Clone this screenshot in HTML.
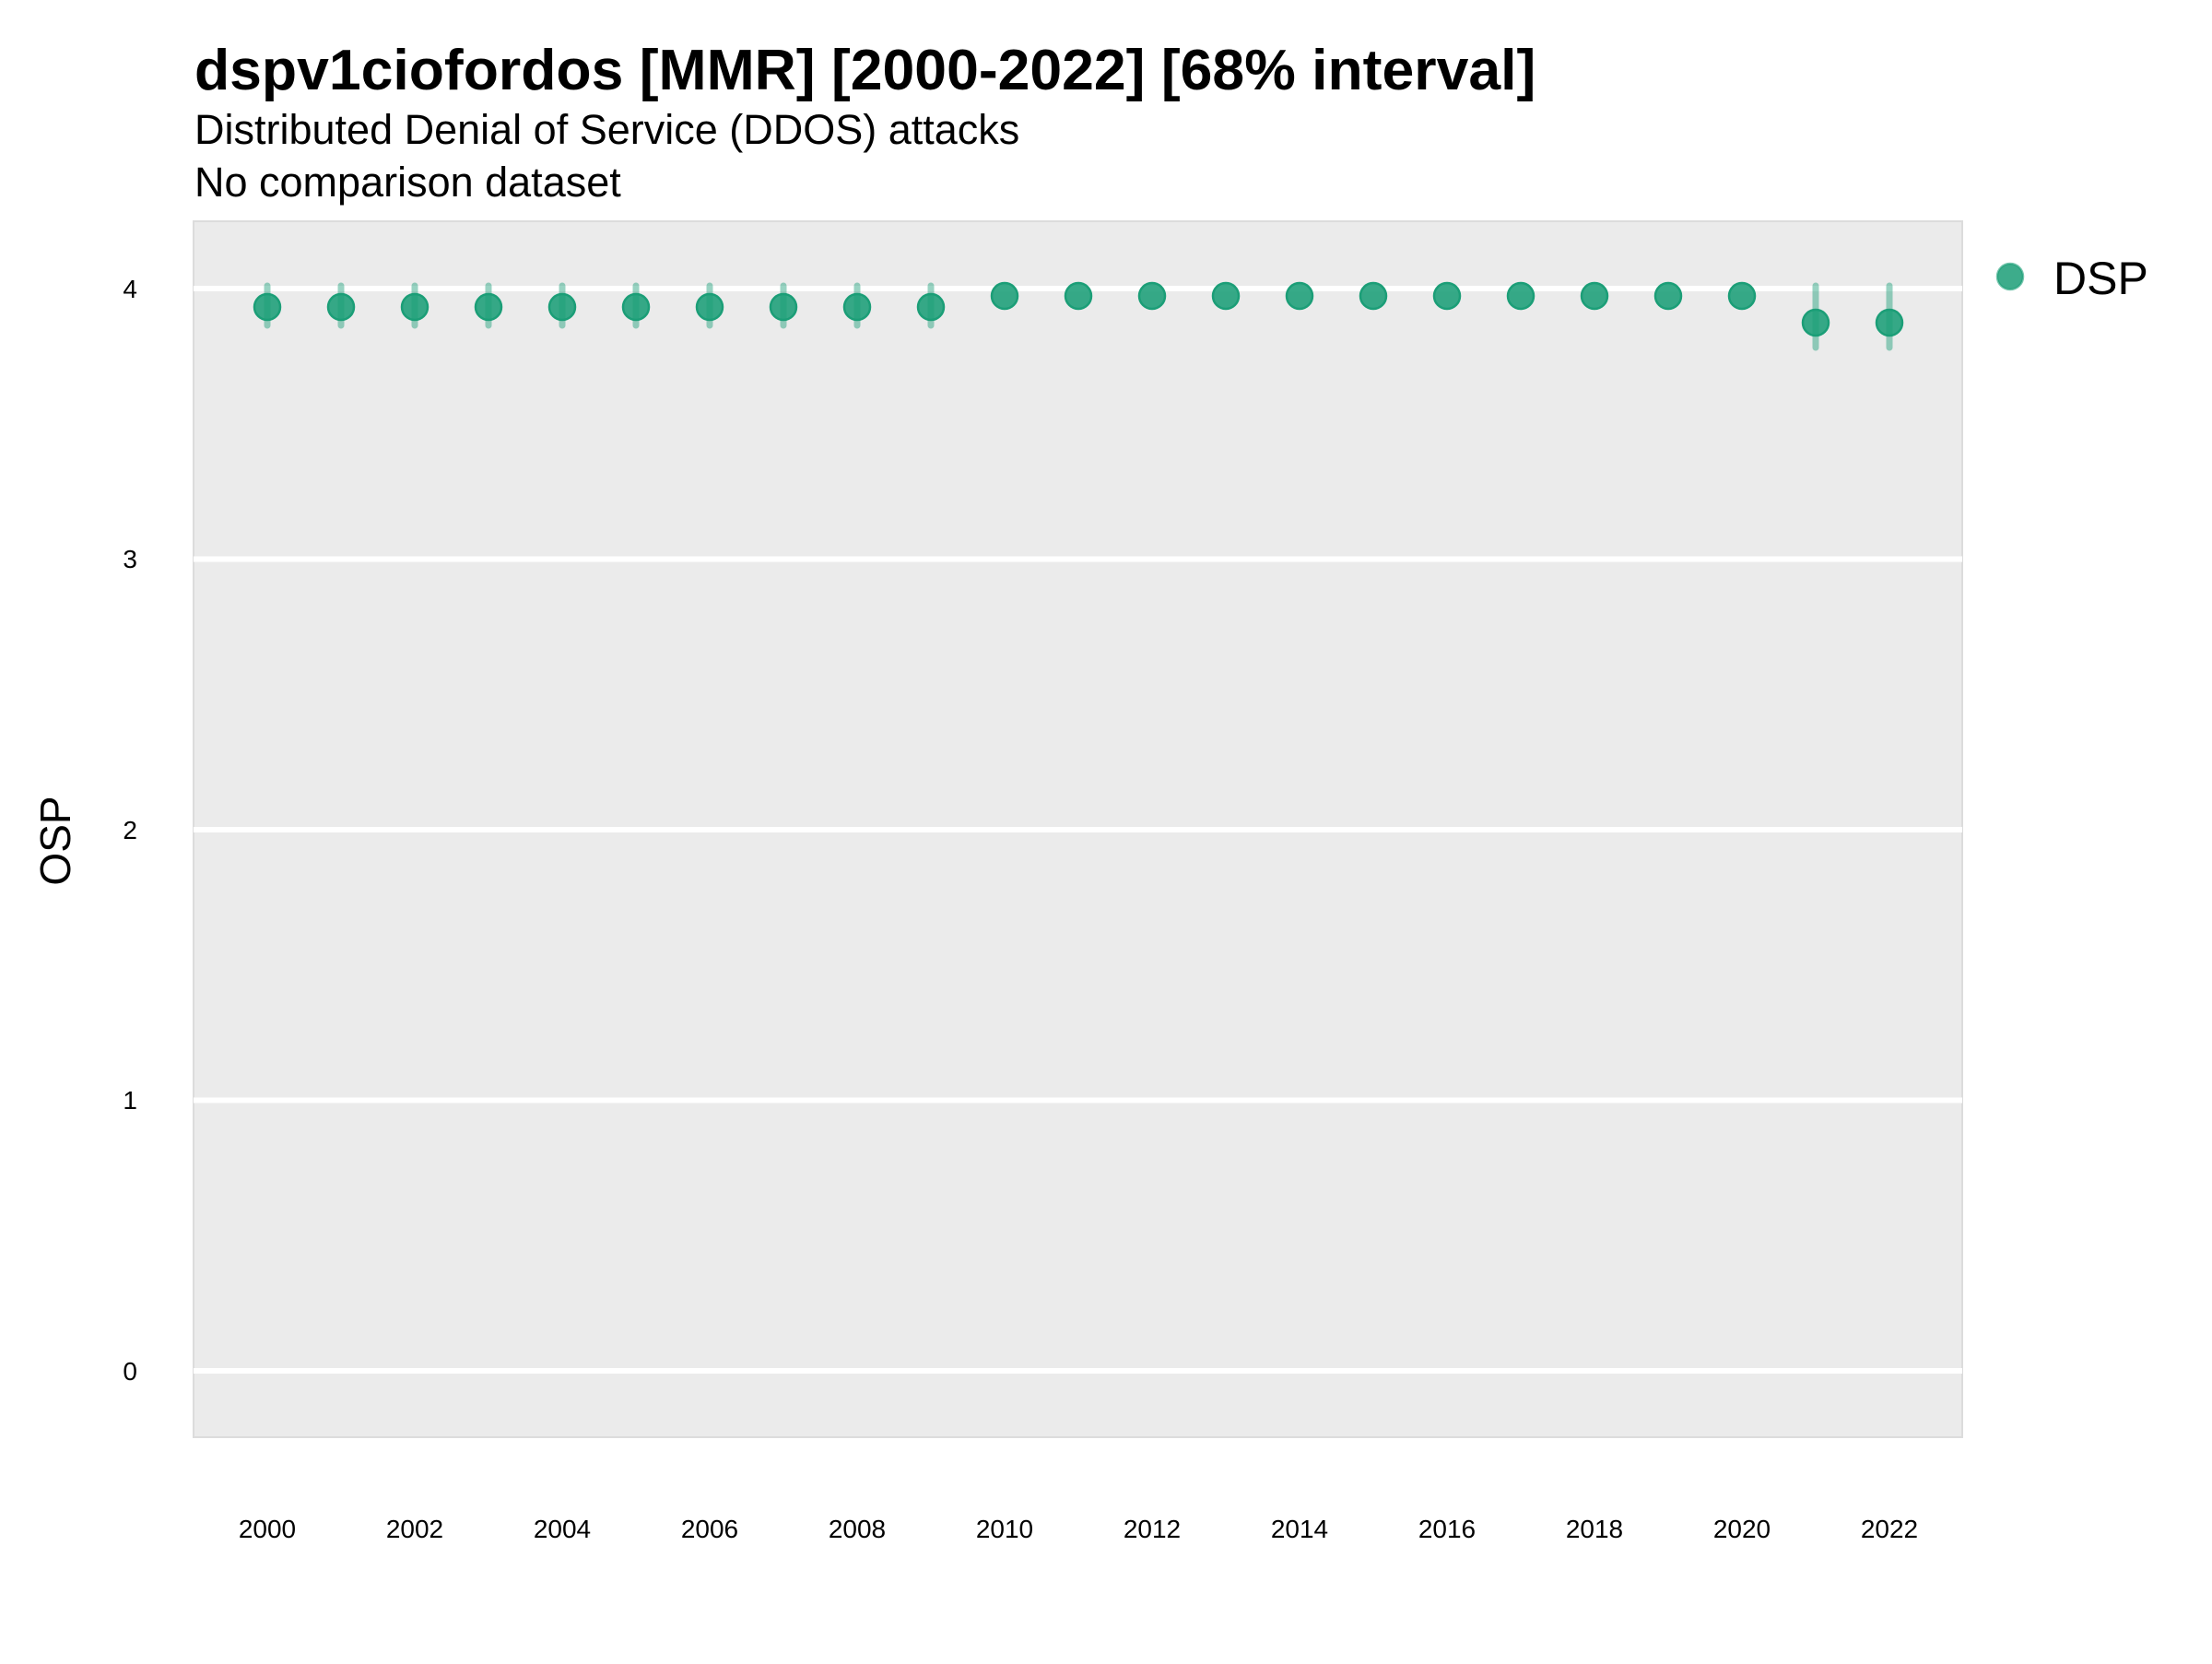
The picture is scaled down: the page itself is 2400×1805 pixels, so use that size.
<!DOCTYPE html>
<html><head><meta charset="utf-8"><style>html,body{margin:0;padding:0;background:#fff}</style></head>
<body>
<svg width="2400" height="1800" viewBox="0 0 2400 1800" xmlns="http://www.w3.org/2000/svg" font-family="Liberation Sans, sans-serif">
<rect x="0" y="0" width="2400" height="1800" fill="#fff"/>
<text x="211" y="97" font-size="62.5" font-weight="bold">dspv1ciofordos [MMR] [2000-2022] [68% interval]</text>
<text x="211" y="156" font-size="45">Distributed Denial of Service (DDOS) attacks</text>
<text x="211" y="213" font-size="45">No comparison dataset</text>
<rect x="210" y="240" width="1919" height="1319" fill="#ebebeb" stroke="#dcdcdc" stroke-width="2"/>
<g stroke="#fff" stroke-width="6">
<line x1="210" x2="2129" y1="313" y2="313"/>
<line x1="210" x2="2129" y1="606.5" y2="606.5"/>
<line x1="210" x2="2129" y1="900" y2="900"/>
<line x1="210" x2="2129" y1="1193.5" y2="1193.5"/>
<line x1="210" x2="2129" y1="1487" y2="1487"/>
</g>
<g font-size="28" text-anchor="end">
<text x="149" y="323">4</text>
<text x="149" y="616">3</text>
<text x="149" y="910">2</text>
<text x="149" y="1203">1</text>
<text x="149" y="1497">0</text>
</g>
<text transform="translate(76,912) rotate(-90)" font-size="46" text-anchor="middle">OSP</text>
<g font-size="28" text-anchor="middle">
<text x="290" y="1668">2000</text><text x="450" y="1668">2002</text><text x="610" y="1668">2004</text>
<text x="770" y="1668">2006</text><text x="930" y="1668">2008</text><text x="1090" y="1668">2010</text>
<text x="1250" y="1668">2012</text><text x="1410" y="1668">2014</text><text x="1570" y="1668">2016</text>
<text x="1730" y="1668">2018</text><text x="1890" y="1668">2020</text><text x="2050" y="1668">2022</text>
</g>
<g id="pts">
<g stroke="#1b9e77" stroke-opacity="0.45" stroke-width="7" stroke-linecap="round">
<line x1="290" x2="290" y1="310" y2="353"/><line x1="370" x2="370" y1="310" y2="353"/>
<line x1="450" x2="450" y1="310" y2="353"/><line x1="530" x2="530" y1="310" y2="353"/>
<line x1="610" x2="610" y1="310" y2="353"/><line x1="690" x2="690" y1="310" y2="353"/>
<line x1="770" x2="770" y1="310" y2="353"/><line x1="850" x2="850" y1="310" y2="353"/>
<line x1="930" x2="930" y1="310" y2="353"/><line x1="1010" x2="1010" y1="310" y2="353"/>
<line x1="1970" x2="1970" y1="310" y2="377"/><line x1="2050" x2="2050" y1="310" y2="377"/>
</g>
<g fill="#1b9e77" fill-opacity="0.88" stroke="#1b9e77" stroke-width="2.5">
<circle cx="290" cy="333" r="14"/><circle cx="370" cy="333" r="14"/><circle cx="450" cy="333" r="14"/>
<circle cx="530" cy="333" r="14"/><circle cx="610" cy="333" r="14"/><circle cx="690" cy="333" r="14"/>
<circle cx="770" cy="333" r="14"/><circle cx="850" cy="333" r="14"/><circle cx="930" cy="333" r="14"/>
<circle cx="1010" cy="333" r="14"/>
<circle cx="1090" cy="321" r="14"/><circle cx="1170" cy="321" r="14"/><circle cx="1250" cy="321" r="14"/>
<circle cx="1330" cy="321" r="14"/><circle cx="1410" cy="321" r="14"/><circle cx="1490" cy="321" r="14"/>
<circle cx="1570" cy="321" r="14"/><circle cx="1650" cy="321" r="14"/><circle cx="1730" cy="321" r="14"/>
<circle cx="1810" cy="321" r="14"/><circle cx="1890" cy="321" r="14"/>
<circle cx="1970" cy="350" r="14"/><circle cx="2050" cy="350" r="14"/>
<circle cx="2181" cy="300" r="14" fill-opacity="0.85" stroke-opacity="0.6"/>
</g>
</g>
<text x="2228" y="319" font-size="50">DSP</text>
</svg>
</body></html>
